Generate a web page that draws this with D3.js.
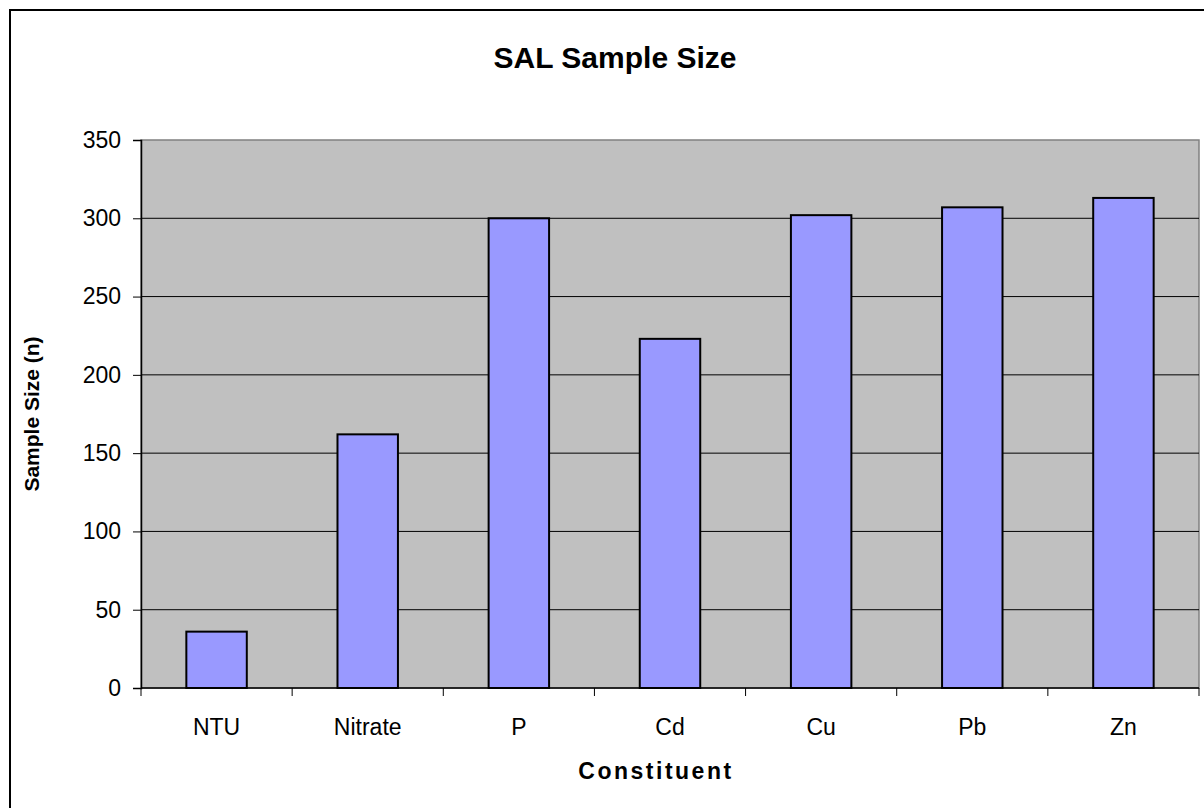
<!DOCTYPE html>
<html>
<head>
<meta charset="utf-8">
<script src="https://cdn.jsdelivr.net/npm/d3@7"></script>
<style>
  body { margin: 0; background: #fff; }
  svg text { font-family: Arial, "Liberation Sans", sans-serif; fill: #000; }
</style>
</head>
<body>
<div id="viz"></div>
<script>
// Data
const constituents = ['NTU', 'Nitrate', 'P', 'Cd', 'Cu', 'Pb', 'Zn'];
const sampleSizes = [36, 162, 300, 223, 302, 307, 313];
const yTicks = [0, 50, 100, 150, 200, 250, 300, 350];

const W = 1204, H = 808;
const plot = { left: 141, top: 140, right: 1199, bottom: 688 };

const svg = d3.select('#viz').append('svg')
  .attr('width', W)
  .attr('height', H);

// chart area border (runs off the right and bottom of the picture)
svg.append('rect')
  .attr('x', 10).attr('y', 10)
  .attr('width', 1240).attr('height', 840)
  .attr('fill', '#fff')
  .attr('stroke', '#000')
  .attr('stroke-width', 2);

const x = d3.scaleBand()
  .domain(constituents)
  .range([plot.left, plot.right])
  .paddingInner(0.6)
  .paddingOuter(0.3);

const y = d3.scaleLinear()
  .domain([0, 350])
  .range([plot.bottom, plot.top]);

// plot area
svg.append('rect')
  .attr('x', plot.left).attr('y', plot.top)
  .attr('width', plot.right - plot.left)
  .attr('height', plot.bottom - plot.top)
  .attr('fill', '#c0c0c0')
  .attr('stroke', '#808080')
  .attr('stroke-width', 1.5);

// gridlines
svg.append('g')
  .selectAll('line')
  .data(yTicks.filter(d => d > 0 && d < 350))
  .join('line')
  .attr('x1', plot.left).attr('x2', plot.right)
  .attr('y1', d => y(d)).attr('y2', d => y(d))
  .attr('stroke', '#000')
  .attr('stroke-width', 1);

// bars
svg.append('g')
  .selectAll('rect')
  .data(constituents)
  .join('rect')
  .attr('x', d => x(d))
  .attr('width', x.bandwidth())
  .attr('y', (d, i) => y(sampleSizes[i]))
  .attr('height', (d, i) => y(0) - y(sampleSizes[i]))
  .attr('fill', '#9999ff')
  .attr('stroke', '#000')
  .attr('stroke-width', 2);

// y axis
const yAxis = svg.append('g')
  .attr('transform', `translate(${plot.left},0)`)
  .call(d3.axisLeft(y).tickValues(yTicks).tickSize(8).tickPadding(12));
yAxis.selectAll('text').style('font-size', '23px');
yAxis.select('.domain').attr('stroke', '#000').attr('stroke-width', 1.5);
yAxis.selectAll('.tick line').attr('stroke', '#000');

// x axis: ticks sit between categories
const step = (plot.right - plot.left) / constituents.length;
const xAxis = svg.append('g');
xAxis.append('line')
  .attr('x1', plot.left).attr('x2', plot.right)
  .attr('y1', plot.bottom).attr('y2', plot.bottom)
  .attr('stroke', '#000').attr('stroke-width', 1.5);
xAxis.selectAll('line.tk')
  .data(d3.range(constituents.length + 1))
  .join('line')
  .attr('class', 'tk')
  .attr('x1', i => plot.left + i * step).attr('x2', i => plot.left + i * step)
  .attr('y1', plot.bottom).attr('y2', plot.bottom + 8)
  .attr('stroke', '#000');
xAxis.selectAll('text')
  .data(constituents)
  .join('text')
  .attr('x', d => x(d) + x.bandwidth() / 2)
  .attr('y', 735)
  .attr('text-anchor', 'middle')
  .style('font-size', '23px')
  .text(d => d);

// titles
svg.append('text')
  .attr('x', 615).attr('y', 68)
  .attr('text-anchor', 'middle')
  .style('font-size', '30px')
  .style('font-weight', 'bold')
  .text('SAL Sample Size');

svg.append('text')
  .attr('x', 656).attr('y', 779)
  .attr('text-anchor', 'middle')
  .style('font-size', '23px')
  .style('font-weight', 'bold')
  .style('letter-spacing', '2.5px')
  .text('Constituent');

svg.append('text')
  .attr('transform', `translate(39,${(plot.top + plot.bottom) / 2}) rotate(-90)`)
  .attr('text-anchor', 'middle')
  .style('font-size', '21px')
  .style('font-weight', 'bold')
  .text('Sample Size (n)');
</script>
</body>
</html>
